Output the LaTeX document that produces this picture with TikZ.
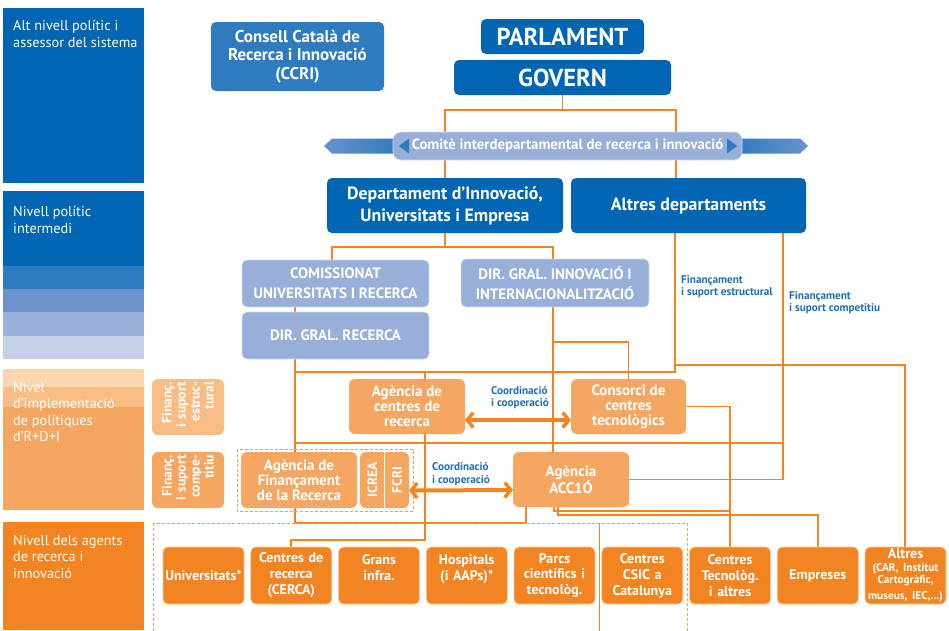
\documentclass[tikz,border=0pt]{standalone}
\usepackage{fontspec}
\setmainfont{PT Sans}
\usetikzlibrary{positioning,arrows.meta,backgrounds,calc}
\definecolor{dblue}{RGB}{0,102,179}
\definecolor{mblue}{RGB}{46,123,191}
\definecolor{sblue}{RGB}{107,146,203}
\definecolor{lblue}{RGB}{152,175,217}
\definecolor{pblue}{RGB}{196,209,233}
\definecolor{orng}{RGB}{242,132,34}
\definecolor{lorng}{RGB}{245,166,96}
\definecolor{porng}{RGB}{248,188,133}
\definecolor{vorng}{RGB}{251,213,174}
\definecolor{txtblue}{RGB}{31,111,184}
\tikzstyle{dbbox}=[rectangle, rounded corners=5pt, fill=dblue, text=white, inner sep=0pt, outer sep=0pt, align=center]
\tikzstyle{mbbox}=[rectangle, rounded corners=5pt, fill=mblue, text=white, inner sep=0pt, outer sep=0pt, align=center]
\tikzstyle{lbbox}=[rectangle, rounded corners=5pt, fill=lblue, draw=white!60!lblue, line width=0.6pt, text=white, inner sep=0pt, outer sep=0pt, align=center, font=\fontsize{15}{20}\selectfont\bfseries]
\tikzstyle{lobox}=[rectangle, rounded corners=6pt, fill=lorng, text=white, inner sep=0pt, outer sep=0pt, align=center, font=\fontsize{15}{15}\selectfont\bfseries]
\tikzstyle{obox}=[rectangle, rounded corners=5pt, fill=orng, draw=white!55!orng, line width=0.6pt, text=white, inner sep=0pt, outer sep=0pt, minimum width=81, minimum height=57, text width=79, align=center, font=\fontsize{14}{16}\selectfont\bfseries]
\tikzstyle{finbox}=[rectangle, rotate=90, rounded corners=6pt, text=white, inner sep=0pt, minimum width=56, minimum height=72, text width=50, align=right, font=\fontsize{13.5}{14}\selectfont\bfseries]
\tikzstyle{rot}=[rotate=90, text=white, inner sep=0pt, font=\fontsize{13.5}{14}\selectfont\bfseries]
\tikzstyle{lvtxt}=[anchor=north west, inner sep=0pt, text=white, align=left, font=\fontsize{14.3}{16.5}\selectfont]
\tikzstyle{cotxt}=[inner sep=0pt, text=txtblue, align=left, font=\fontsize{11.2}{12.5}\selectfont\bfseries]
\tikzstyle{pline}=[-, draw=orng, line width=1.8pt]
\tikzstyle{dline}=[draw=orng!80, line width=1pt, dash pattern=on 3pt off 2pt]
\tikzstyle{carrow}=[draw=orng, line width=4pt, >={Straight Barb[length=6pt,width=15pt,line width=3.5pt]}, <->]

\begin{document}
\begin{tikzpicture}[x=1pt,y=-1pt]
\useasboundingbox (0,0) rectangle (949,630);
\fill[dblue] (3,8) rectangle (144,183);
\node (LV1) [lvtxt] at (13,20) {Alt nivell polític i\\assessor del sistema};
\fill[dblue] (3,191) rectangle (144,266);
\fill[mblue] (3,266) rectangle (144,289);
\fill[sblue] (3,289) rectangle (144,312);
\fill[lblue] (3,312) rectangle (144,336);
\fill[pblue] (3,336) rectangle (144,359);
\node (LV2) [lvtxt] at (13,206) {Nivell polític\\intermedi};
\fill[lorng] (3,369) rectangle (144,510);
\fill[porng] (3,369) rectangle (144,407);
\fill[vorng] (3,369) rectangle (144,387);
\node (LV3) [lvtxt] at (13,382) {Nivel\\d'implementació\\de polítiques\\d'R+D+I};
\fill[orng] (3,522) rectangle (144,630);
\node (LV4) [lvtxt] at (13,535) {Nivell dels agents\\de recerca i\\innovació};
\node (FEST) [finbox, fill=porng] at (188,407) {Finanç.\\i suport\\estruc-\\tural};
\node (FCOM) [finbox, fill=lorng] at (188,480) {Finanç.\\i suport\\compe-\\titiu};
\node (CCRI) [mbbox, minimum width=173, minimum height=69, font=\fontsize{17}{18.5}\selectfont\bfseries] at (297.5,56.5) {Consell Català de\\Recerca i Innovació\\(CCRI)};
\node (PARL) [dbbox, minimum width=163, minimum height=35, font=\fontsize{24.5}{24}\selectfont\bfseries] at (562.5,36.5) {PARLAMENT};
\node (GOV) [dbbox, minimum width=217, minimum height=35, font=\fontsize{24.5}{24}\selectfont\bfseries] at (562.5,77.5) {GOVERN};
\shade[left color=sblue, right color=mblue] (324,146) -- (332,138.5) -- (400,138.5) -- (400,153.5) -- (332,153.5) -- cycle;
\shade[left color=mblue, right color=sblue] (735,138.5) -- (800,138.5) -- (808,146) -- (800,153.5) -- (735,153.5) -- cycle;
\node (COMITE) [lbbox, minimum width=349, minimum height=28, rounded corners=8pt, font=\fontsize{14.8}{14}\selectfont\bfseries] at (567.5,146) {Comitè interdepartamental de recerca i innovació};
\fill[mblue] (399,146) -- (409,138.5) -- (409,153.5) -- cycle;
\fill[mblue] (737,146) -- (727,138.5) -- (727,153.5) -- cycle;
\node (DIUE) [dbbox, minimum width=236, minimum height=55, font=\fontsize{17.8}{22}\selectfont\bfseries] at (445,205.5) {Departament d'Innovació,\\Universitats i Empresa};
\node (ALTDEP) [dbbox, minimum width=235, minimum height=55, font=\fontsize{17.8}{22}\selectfont\bfseries] at (688.5,205.5) {Altres departaments};
\node (COMIS) [lbbox, minimum width=187, minimum height=47] at (335.5,283.5) {COMISSIONAT\\UNIVERSITATS I RECERCA};
\node (DGR) [lbbox, minimum width=187, minimum height=47, below=5pt of COMIS] {DIR. GRAL. RECERCA};
\node (DGII) [lbbox, minimum width=188, minimum height=48] at (555,283) {DIR. GRAL. INNOVACIÓ I\\INTERNACIONALITZACIÓ};
\node (ACR) [lobox, minimum width=116, minimum height=55] at (407,406.5) {Agència de\\centres de\\recerca};
\node (CCT) [lobox, minimum width=115, minimum height=55] at (628.5,406.5) {Consorci de\\centres\\tecnològics};
\node (AFR) [lobox, minimum width=116, minimum height=56] at (299,480) {Agència de\\Finançament\\de la Recerca};
\node (IFBOX) [lobox, minimum width=49, minimum height=56] at (384.5,480) {};
\draw[white, line width=1pt] (IFBOX.north) -- (IFBOX.south);
\node (ICREA) [rot] at (372.5,480) {ICREA};
\node (FCRI) [rot] at (397,480) {FCRI};
\node (ACCIO) [lobox, minimum width=116, minimum height=55] at (571,479.5) {Agència\\ACC1Ó};
\node (UNIV) [obox] at (203.5,575.5) {Universitats*};
\node (CERCA) [obox, right=6.75pt of UNIV] {Centres de\\recerca\\(CERCA)};
\node (GRANS) [obox, right=6.75pt of CERCA] {Grans\\infra.\\\mbox{}};
\node (HOSP) [obox, right=6.75pt of GRANS] {Hospitals\\(i AAPs)*\\\mbox{}};
\node (PARCS) [obox, right=6.75pt of HOSP] {Parcs\\científics i\\tecnològ.};
\node (CSIC) [obox, right=6.75pt of PARCS] {Centres\\CSIC a\\Catalunya};
\node (CTEC) [obox, right=6.75pt of CSIC] {Centres\\Tecnològ.\\i altres};
\node (EMPR) [obox, right=6.75pt of CTEC] {Empreses};
\node (ALTRES) [obox, right=6.75pt of EMPR] {Altres\\\fontsize{11.3}{12.3}\selectfont(CAR, Institut\\Cartogràfic,\\museus, IEC,...)};
\node (COOR1) [cotxt] at (520,397.5) {Coordinació\\i cooperació};
\node (COOR2) [cotxt] at (461,474) {Coordinació\\i cooperació};
\node (FINEST) [cotxt, anchor=north west] at (681,275) {Finançament\\i suport estructural};
\node (FINCOM) [cotxt, anchor=north west] at (789,291) {Finançament\\i suport competitiu};
\draw[carrow] ([yshift=-13.5pt]ACR.east) -- ([yshift=-13.5pt]CCT.west);
\draw[carrow] ([yshift=-10.5pt]IFBOX.east) -- ([yshift=-10.5pt]ACCIO.west);
\begin{scope}[on background layer]
\coordinate (G1) at (445,110);
\coordinate (G2) at (676,110);
\coordinate (D1) at (332,247);
\coordinate (D2) at (553,247);
\coordinate (C1) at (553,342);
\coordinate (R1) at (295,372);
\coordinate (R2) at (295,443);
\coordinate (R3) at (295,523);
\coordinate (S1) at (675,372);
\coordinate (S2) at (905,365);
\coordinate (K1) at (783,443);
\coordinate (A1) at (425,372);
\coordinate (A2) at (425,540);
\coordinate (E1) at (554,511);
\coordinate (E2) at (558,515);
\coordinate (E3) at (526,523);
 \draw[pline] (GOV.south) -- (GOV.south |- G1);
 \draw[pline] (DIUE.north -| G1) |- (G2) -- (ALTDEP.north -| G2);
 \draw[pline] (DIUE.south) -- (DIUE.south |- D1);
 \draw[pline] (COMIS.north -| D1) |- (D2) -- (ACCIO.north -| D2);
 \draw[pline] (C1) -| (CCT.north);
 \draw[pline] (COMIS.south -| R1) -- (R3);
 \draw[pline] (ALTDEP.south -| S1) -- (S1) -- (R1);
 \draw[pline] (S1 |- S2) -- (S2) -- (ALTRES.north -| S2);
 \draw[pline] (ALTDEP.south -| K1) |- (ACCIO.east);
 \draw[pline] (K1) -- (R2);
 \draw[pline] (A1) -- (A2) -| (CERCA.north);
 \draw[pline] (CCT.east) -| (CTEC.north);
 \draw[pline] (ACCIO.south -| E1) -- (E1) -- (E1 -| CTEC.north);
 \draw[pline] (ACCIO.south -| E2) -- (E2) -| (EMPR.north);
 \draw[pline] (ACCIO.south -| E3) -- (E3);
 \draw[pline] (R3) -- (E3);
 \draw[dline] (153,523) rectangle (687,640);
 \draw[pline, line width=1pt] (599,523) -- (599,640);
 \draw[dline] (237,449) rectangle (413,511);
\end{scope}
\end{tikzpicture}
\end{document}
